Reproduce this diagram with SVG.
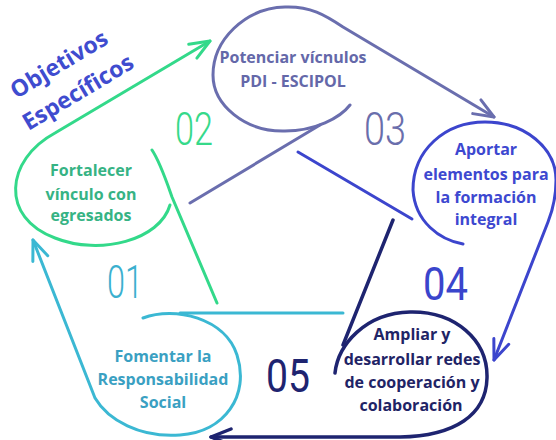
<svg xmlns="http://www.w3.org/2000/svg" width="556" height="440" viewBox="0 0 556 440">
<defs>
<style>
.ln{fill:none;stroke-width:3;stroke-linecap:round;stroke-linejoin:round}
.t{font-family:"Open Sans","Liberation Sans",sans-serif;font-weight:700;font-size:16px;text-anchor:middle}
.n{font-family:Roboto,"Liberation Sans",sans-serif;font-weight:300;font-size:46px}
.g{stroke:#33d98a}.p{stroke:#6a6eae}.b{stroke:#3c45cd}.v{stroke:#1e2470}.c{stroke:#3bb8d3}
</style>
<marker id="ag" viewBox="-22 -10 24 20" refX="0" refY="0" markerWidth="24" markerHeight="20" markerUnits="userSpaceOnUse" orient="auto"><path d="M-20,-8 L0,0 L-20,8" fill="none" stroke="#33d98a" stroke-width="3" stroke-linecap="round" stroke-linejoin="round"/></marker>
<marker id="ap" viewBox="-22 -10 24 20" refX="0" refY="0" markerWidth="24" markerHeight="20" markerUnits="userSpaceOnUse" orient="auto"><path d="M-20,-8 L0,0 L-20,8" fill="none" stroke="#6a6eae" stroke-width="3" stroke-linecap="round" stroke-linejoin="round"/></marker>
<marker id="ab" viewBox="-22 -10 24 20" refX="0" refY="0" markerWidth="24" markerHeight="20" markerUnits="userSpaceOnUse" orient="auto"><path d="M-20,-8 L0,0 L-20,8" fill="none" stroke="#3c45cd" stroke-width="3" stroke-linecap="round" stroke-linejoin="round"/></marker>
<marker id="av" viewBox="-22 -10 24 20" refX="0" refY="0" markerWidth="24" markerHeight="20" markerUnits="userSpaceOnUse" orient="auto"><path d="M-20,-8 L0,0 L-20,8" fill="none" stroke="#1e2470" stroke-width="3.5" stroke-linecap="round" stroke-linejoin="round"/></marker>
<marker id="ac" viewBox="-22 -10 24 20" refX="0" refY="0" markerWidth="24" markerHeight="20" markerUnits="userSpaceOnUse" orient="auto"><path d="M-20,-8 L0,0 L-20,8" fill="none" stroke="#3bb8d3" stroke-width="3" stroke-linecap="round" stroke-linejoin="round"/></marker>
</defs>
<rect width="556" height="440" fill="#ffffff"/>

<g id="connectors">
<path class="ln g" d="M170,205 C160,240 100,256 55,238 C0,218 5,160 55,133 L210,41" marker-end="url(#ag)"/>
<path class="ln g" d="M217,303 L172,197 C166,180 160,162 152,150"/>
<path class="ln p" d="M350,105 C340,118 315,131 285,131 C245,132 213,105 213,75 C213,40 245,8 285,7 C310,6 325,15 343,27 L494,117" marker-end="url(#ap)"/>
<path class="ln p" d="M190,203 L320,125"/>
<path class="ln b" d="M463,244 C440,240 415,222 413,190 C413,150 445,122 485,122 C525,122 556,148 556,180 C556,200 552,212 548,222 L494,360" marker-end="url(#ab)"/>
<path class="ln b" d="M298,152 L412,219"/>
<path class="ln v" style="stroke-width:3.5" d="M335,373 C338,345 365,313 410,312 C455,311 488,340 487,378 C486,415 455,436 400,437 L211,437" marker-end="url(#av)"/>
<path class="ln v" style="stroke-width:3.5" d="M393,220 L343,345"/>
<path class="ln c" d="M143,318 C175,306 225,318 237,355 C250,395 225,432 180,435 C140,438 108,420 95,398 L33,240" marker-end="url(#ac)"/>
<path class="ln c" d="M343,313 L180,313"/>
</g>

<g id="title" font-family="'Open Sans','Liberation Sans',sans-serif" font-weight="700" font-size="23" fill="#3f4ccf" text-anchor="middle">
<text transform="translate(63,71) rotate(-31)">Objetivos</text>
<text transform="translate(82,99) rotate(-31)">Específicos</text>
</g>

<g id="node01">
<text class="t" fill="#3aa0c2" x="163" y="362">Fomentar la</text>
<text class="t" fill="#3aa0c2" x="163" y="385">Responsabilidad</text>
<text class="t" fill="#3aa0c2" x="163" y="408">Social</text>
<text class="n" fill="#3bb0cf" x="107" y="298" textLength="36" lengthAdjust="spacingAndGlyphs">01</text>
</g>

<g id="node02">
<text class="t" fill="#36b384" x="91" y="176">Fortalecer</text>
<text class="t" fill="#36b384" x="91" y="200">vínculo con</text>
<text class="t" fill="#36b384" x="91" y="221">egresados</text>
<text class="n" fill="#36d98a" x="175" y="145" textLength="38" lengthAdjust="spacingAndGlyphs">02</text>
</g>

<g id="node03">
<text class="t" fill="#6468a9" x="293" y="63">Potenciar vícnulos</text>
<text class="t" fill="#6468a9" x="293" y="87">PDI - ESCIPOL</text>
<text class="n" fill="#6a6eac" x="364" y="145" textLength="42" lengthAdjust="spacingAndGlyphs">03</text>
</g>

<g id="node04">
<text class="t" fill="#3d48d0" x="486" y="155">Aportar</text>
<text class="t" fill="#3d48d0" x="486" y="180">elementos para</text>
<text class="t" fill="#3d48d0" x="486" y="203">la formación</text>
<text class="t" fill="#3d48d0" x="486" y="225">integral</text>
<text class="n" fill="#3a45cc" style="font-weight:400" x="423" y="300" textLength="45" lengthAdjust="spacingAndGlyphs">04</text>
</g>

<g id="node05">
<text class="t" fill="#1f2466" x="412" y="340">Ampliar y</text>
<text class="t" fill="#1f2466" x="412" y="365">desarrollar redes</text>
<text class="t" fill="#1f2466" x="412" y="388">de cooperación y</text>
<text class="t" fill="#1f2466" x="411" y="411">colaboración</text>
<text class="n" fill="#1e2470" style="font-weight:400" x="266" y="392" textLength="44" lengthAdjust="spacingAndGlyphs">05</text>
</g>
</svg>
